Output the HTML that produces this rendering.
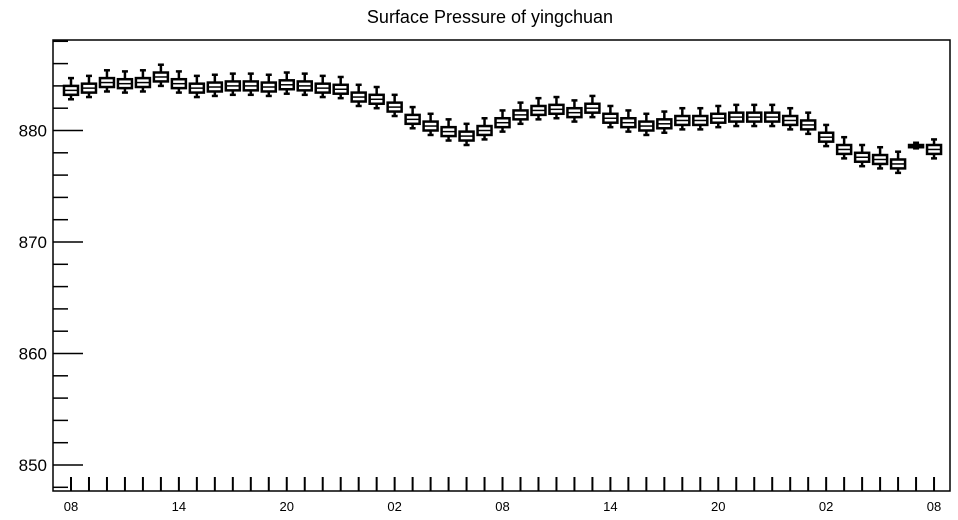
<!DOCTYPE html>
<html><head><meta charset="utf-8"><style>
body{margin:0;background:#fff;}
svg{display:block;font-family:"Liberation Sans",Arial,sans-serif;}
</style></head><body>
<svg id="chart" width="958" height="520">
<text x="490" y="23" font-size="18" text-anchor="middle">Surface Pressure of yingchuan</text>
<rect x="53" y="40" width="897" height="451" fill="none" stroke="#000" stroke-width="1.5"/>
<g id="yaxis"></g>
<g id="xaxis"></g>
<g id="boxes"></g>
</svg>
<script>
const hours = Array.from({length:49},(_,i)=>i);
const xTickLabels = ["08","14","20","02","08","14","20","02","08"];
const yTickLabels = [850,860,870,880];
const med = [883.6,883.8,884.3,884.2,884.3,884.8,884.2,883.8,883.9,884.0,884.0,883.9,884.1,884.0,883.8,883.7,883.0,882.8,882.1,881.0,880.4,879.9,879.5,880.0,880.7,881.4,881.8,881.9,881.6,882.0,881.1,880.7,880.4,880.6,880.9,880.9,881.1,881.2,881.2,881.2,880.9,880.5,879.4,878.3,877.6,877.4,877.0,878.6,878.3];
const q1 = [883.2,883.4,883.9,883.8,883.9,884.4,883.8,883.4,883.5,883.6,883.6,883.5,883.7,883.6,883.4,883.3,882.6,882.4,881.7,880.6,880.0,879.5,879.1,879.6,880.3,881.0,881.4,881.5,881.2,881.6,880.7,880.3,880.0,880.2,880.5,880.5,880.7,880.8,880.8,880.8,880.5,880.1,879.0,877.9,877.2,877.0,876.6,878.5,877.9];
const q3 = [884.0,884.2,884.7,884.6,884.7,885.2,884.6,884.2,884.3,884.4,884.4,884.3,884.5,884.4,884.2,884.1,883.4,883.2,882.5,881.4,880.8,880.3,879.9,880.4,881.1,881.8,882.2,882.3,882.0,882.4,881.5,881.1,880.8,881.0,881.3,881.3,881.5,881.6,881.6,881.6,881.3,880.9,879.8,878.7,878.0,877.8,877.4,878.7,878.7];
const lo = [882.8,883.0,883.5,883.4,883.5,884.0,883.4,883.0,883.1,883.2,883.2,883.1,883.3,883.2,883.0,882.9,882.2,882.0,881.3,880.2,879.6,879.1,878.7,879.2,879.9,880.6,881.0,881.1,880.8,881.2,880.3,879.9,879.6,879.8,880.1,880.1,880.3,880.4,880.4,880.4,880.1,879.7,878.6,877.5,876.8,876.6,876.2,878.4,877.5];
const hi = [884.7,884.9,885.4,885.3,885.4,885.9,885.3,884.9,885.0,885.1,885.1,885.0,885.2,885.1,884.9,884.8,884.1,883.9,883.2,882.1,881.5,881.0,880.6,881.1,881.8,882.5,882.9,883.0,882.7,883.1,882.2,881.8,881.5,881.7,882.0,882.0,882.2,882.3,882.3,882.3,882.0,881.6,880.5,879.4,878.7,878.5,878.1,878.9,879.2];

const NS="http://www.w3.org/2000/svg";
const X = h => 71 + h*17.98;
const Y = v => 465 - (v-850)*11.15;
function mk(tag, attrs, parent){const e=document.createElementNS(NS,tag);for(const k in attrs)e.setAttribute(k,attrs[k]);parent.appendChild(e);return e;}
const ya=document.getElementById('yaxis'), xa=document.getElementById('xaxis'), bx=document.getElementById('boxes');
// y minor ticks every 2
for(let v=848; v<=888; v+=2){
  const y=Y(v); if(y<41||y>490) continue;
  const major = v%10===0;
  const t=mk('line',{x1:53,x2:major?83:68,y1:y,y2:y,stroke:'#000','stroke-width':1.5},ya);
  
  
}
yTickLabels.forEach(v=>{
  const t=mk('text',{x:47,y:Y(v)+6,'font-size':17,'text-anchor':'end'},ya);
  t.textContent=v;
  
  
});
hours.forEach(h=>{
  const t=mk('line',{x1:X(h),x2:X(h),y1:477,y2:491,stroke:'#000','stroke-width':2},xa);
  
  
});
xTickLabels.forEach((s,i)=>{
  const t=mk('text',{x:X(i*6),y:511,'font-size':13,'text-anchor':'middle'},xa);
  t.textContent=s;
  
  
});
hours.forEach(h=>{
  const g=mk('g',{stroke:'#000','stroke-width':2.5,fill:'#fff'},bx);
  
  
  const x=X(h);
  mk('line',{x1:x,x2:x,y1:Y(hi[h]),y2:Y(q3[h])},g);
  mk('line',{x1:x,x2:x,y1:Y(q1[h]),y2:Y(lo[h])},g);
  mk('line',{x1:x-3,x2:x+3,y1:Y(hi[h]),y2:Y(hi[h])},g);
  mk('line',{x1:x-3,x2:x+3,y1:Y(lo[h]),y2:Y(lo[h])},g);
  mk('rect',{x:x-7,y:Y(q3[h]),width:14,height:Math.max(1,Y(q1[h])-Y(q3[h]))},g);
  mk('line',{x1:x-7,x2:x+7,y1:Y(med[h]),y2:Y(med[h]),'stroke-width':1.5},g);
});
</script>
</body></html>
